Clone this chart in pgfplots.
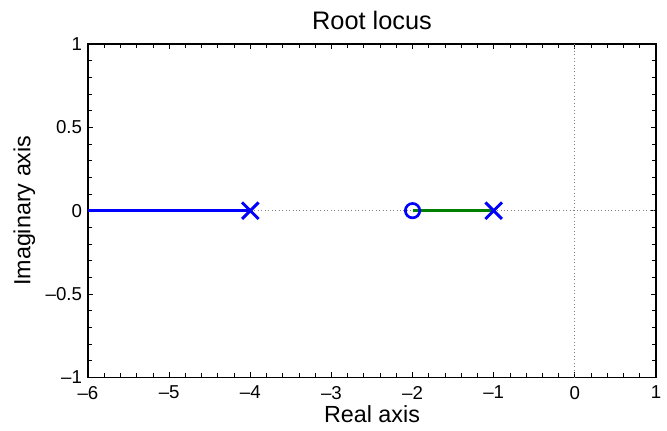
\documentclass[border=0pt]{standalone}
\usepackage{fontspec}
\setmainfont{Liberation Sans}
\usepackage{pgfplots}
\pgfplotsset{compat=1.18}
\definecolor{mblue}{rgb}{0,0,1}
\definecolor{mgreen}{rgb}{0,0.5,0}
\begin{document}
\begin{tikzpicture}
\begin{axis}[
    scale only axis,
    width=426pt, height=250pt,
    xmin=-6, xmax=1, ymin=-1, ymax=1,
    xtick={-6,-5,-4,-3,-2,-1,0,1},
    xticklabels={–6,–5,–4,–3,–2,–1,0,1},
    ytick={-1,-0.5,0,0.5,1},
    yticklabels={–1,–0.5,0,0.5,1},
    minor x tick num=4, minor y tick num=4,
    tick align=inside, tick pos=both,
    major tick length=4pt, minor tick length=3pt,
    tick style={black, line width=0.6pt},
    axis line style={line width=0.9pt},
    tick label style={font=\fontsize{14}{15}\selectfont},
    xticklabel style={yshift=-3pt},
    yticklabel style={xshift=-1pt},
    xlabel={Real axis}, ylabel={Imaginary axis},
    label style={font=\fontsize{17.5}{19}\selectfont},
    xlabel style={yshift=2pt},
    ylabel style={yshift=1pt},
    title={Root locus},
    title style={font=\fontsize{19}{20}\selectfont, yshift=1pt},
    clip=false,
]
% dotted reference lines
\addplot[gray, dotted, line width=0.6pt] coordinates {(-6,0) (1,0)};
\addplot[gray, dotted, line width=0.6pt] coordinates {(0,-1) (0,1)};
% branches
\addplot[mblue, line width=2pt] coordinates {(-6,0) (-4,0)};
\addplot[mgreen, line width=2pt] coordinates {(-2,0) (-1,0)};
% poles
\addplot[mblue, only marks, mark=x, mark size=8.8pt, mark options={line width=2.2pt}] coordinates {(-4,0) (-1,0)};
% zero
\addplot[mblue, only marks, mark=o, mark size=5.4pt, mark options={line width=2pt}] coordinates {(-2,0)};
\coordinate (sw) at (rel axis cs:0,0);
\coordinate (ne) at (rel axis cs:1,1);
\end{axis}
\pgfresetboundingbox
\path ([xshift=-66pt,yshift=-39.75pt]sw) rectangle ([xshift=8.25pt,yshift=33pt]ne);
\end{tikzpicture}
\end{document}
